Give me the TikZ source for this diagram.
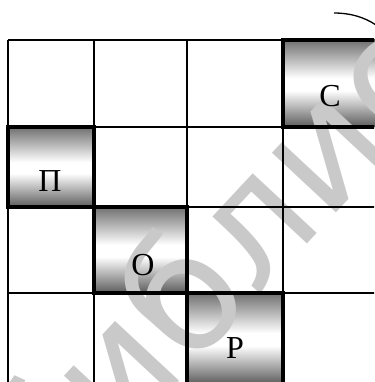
\documentclass[tikz,border=0pt]{standalone}
\usepackage{fontspec}
\setmainfont{Liberation Serif}
\newfontfamily\wmfont{DejaVu Sans}
\pgfdeclareverticalshading{cyl}{100bp}{color(0bp)=(black!64); color(25bp)=(black!64); color(46bp)=(white); color(53bp)=(white); color(75bp)=(black!56); color(100bp)=(black!56)}
\begin{document}
\begin{tikzpicture}[x=1pt,y=-1pt,
  gridline/.style={line width=2.3pt, black},
  boldline/.style={line width=3.6pt, black},
  cellshade/.style={shading=cyl},
  letter/.style={font=\fontsize{32}{32}\selectfont, inner sep=0pt},
  wm/.style={font=\wmfont\fontsize{160}{160}\selectfont, text=black!21, rotate=47, anchor=base west, inner sep=0pt}]
\useasboundingbox (0,0) rectangle (374,382);
\fill[white] (0,0) rectangle (374,382);
% shaded cells
\shade[cellshade] (283,40) rectangle (377,127);
\shade[cellshade] (8,127) rectangle (94,207);
\shade[cellshade] (94,207) rectangle (187,293);
\shade[cellshade] (187,293) rectangle (283,384);
% watermark
\node[wm] (wmark) at (51,519) {библиотека};
% grid
\begin{scope}
\clip (0,0) rectangle (374,382);
\foreach \yy in {40,127,207,293} \draw[gridline] (8,\yy) -- (380,\yy);
\foreach \xx in {8,94,187,283} \draw[gridline] (\xx,40) -- (\xx,386);
\draw[boldline] (283,40) rectangle (377,127);
\draw[boldline] (8,127) rectangle (94,207);
\draw[boldline] (94,207) rectangle (187,293);
\draw[boldline] (187,293) rectangle (283,384);
\end{scope}
% letters
\node[letter] (c) at (330,96) {С};
\node[letter] (p) at (50,181) {П};
\node[letter] (o) at (143,265) {О};
\node[letter] (r) at (235,348) {Р};
% arc at top right
\coordinate (arcA) at (334,13);
\coordinate (arcB) at (376,25);
\draw[line width=1.3pt] (arcA) .. controls (350,13) and (364,17) .. (arcB);
\end{tikzpicture}
\end{document}
